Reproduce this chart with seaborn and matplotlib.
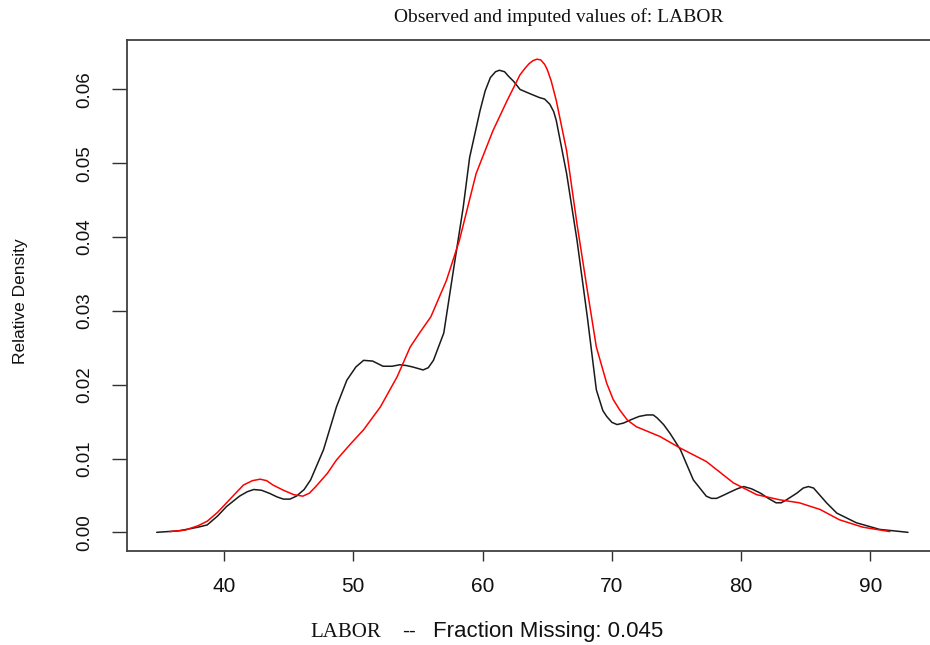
import matplotlib
matplotlib.use("Agg")
import matplotlib.pyplot as plt
import seaborn as sns
from matplotlib.ticker import FixedLocator, StrMethodFormatter

# ---- data ----
obs_x = [34.8, 36.5, 38.0, 38.7, 39.5, 40.2, 41.2, 41.8, 42.3, 42.9, 43.5, 44.1,
         44.6, 45.1, 45.6, 46.2, 46.7, 47.7, 48.7, 49.5, 50.2, 50.8, 51.5, 52.3,
         53.0, 53.6, 54.1, 54.6, 55.0, 55.4, 55.8, 56.2, 57.0, 57.7, 58.5, 59.0,
         59.8, 60.2, 60.6, 61.0, 61.3, 61.7, 62.0, 62.4, 62.9, 63.7, 64.4, 64.8,
         65.2, 65.5, 65.7, 66.5, 67.3, 68.1, 68.8, 69.3, 69.6, 70.0, 70.4, 70.9,
         71.4, 72.1, 72.7, 73.2, 73.5, 74.0, 74.5, 75.3, 76.3, 77.3, 77.7, 78.1,
         78.6, 79.2, 79.7, 80.2, 80.8, 81.5, 82.1, 82.7, 83.1, 83.5, 84.3, 84.8,
         85.2, 85.6, 86.0, 86.6, 87.4, 88.9, 90.7, 92.9]
obs_density = [0.0, 0.0002, 0.0007, 0.0010, 0.0022, 0.0035, 0.0049, 0.0055,
               0.0058, 0.0057, 0.0053, 0.0048, 0.0045, 0.0045, 0.0049, 0.0058,
               0.0071, 0.0112, 0.0170, 0.0206, 0.0224, 0.0233, 0.0232, 0.0225,
               0.0225, 0.0227, 0.0226, 0.0224, 0.0222, 0.0220, 0.0223, 0.0233,
               0.0270, 0.0350, 0.0440, 0.0508, 0.0571, 0.0598, 0.0616, 0.0624,
               0.0626, 0.0624, 0.0618, 0.0611, 0.0600, 0.0594, 0.0589, 0.0587,
               0.0580, 0.0570, 0.0558, 0.0486, 0.0396, 0.0292, 0.0193, 0.0165,
               0.0157, 0.0149, 0.0146, 0.0148, 0.0152, 0.0157, 0.0159, 0.0159,
               0.0155, 0.0146, 0.0134, 0.0112, 0.0071, 0.0049, 0.0046, 0.0046,
               0.0050, 0.0055, 0.0059, 0.0062, 0.0059, 0.0053, 0.0046, 0.0040,
               0.0040, 0.0044, 0.0053, 0.0060, 0.0062, 0.0060, 0.0052, 0.0040,
               0.0026, 0.0013, 0.0004, 0.0]

imp_x = [35.8, 37.0, 38.0, 38.7, 39.5, 40.2, 41.5, 42.2, 42.8, 43.3, 43.8, 44.6,
         45.4, 46.1, 46.6, 47.1, 48.0, 48.7, 49.8, 50.8, 52.1, 53.4, 54.4, 55.2,
         56.0, 57.2, 58.2, 59.5, 60.8, 61.9, 62.9, 63.3, 63.6, 63.9, 64.2, 64.5,
         64.8, 65.0, 65.3, 65.7, 66.5, 67.3, 68.1, 68.8, 69.6, 70.1, 70.6, 71.2,
         71.9, 73.7, 75.3, 77.3, 79.4, 81.2, 83.0, 84.5, 86.1, 87.6, 89.4, 91.5]
imp_density = [0.0001, 0.0003, 0.0009, 0.0015, 0.0027, 0.0040, 0.0064, 0.0070,
               0.0072, 0.0070, 0.0064, 0.0057, 0.0051, 0.0049, 0.0053, 0.0062,
               0.0080, 0.0098, 0.0120, 0.0139, 0.0170, 0.0211, 0.0251, 0.0272,
               0.0292, 0.0341, 0.0395, 0.0486, 0.0544, 0.0585, 0.0620, 0.0629,
               0.0635, 0.0639, 0.0641, 0.0640, 0.0634, 0.0627, 0.0612, 0.0585,
               0.0517, 0.0418, 0.0328, 0.0251, 0.0202, 0.0180, 0.0166, 0.0152,
               0.0143, 0.0130, 0.0114, 0.0096, 0.0067, 0.0051, 0.0044, 0.0040,
               0.0031, 0.0017, 0.0007, 0.0001]

x_ticks = [40, 50, 60, 70, 80, 90]
y_ticks = [0.00, 0.01, 0.02, 0.03, 0.04, 0.05, 0.06]

title_text = "Observed and imputed values of: LABOR"
var_name = "LABOR"
xlabel_rest = "Fraction Missing: 0.045"
ylabel_text = "Relative Density"

# ---- figure ----
sns.set_style("white")
plt.rcParams['font.family'] = ['Liberation Sans', 'DejaVu Sans']

W, H = 930, 645
fig = plt.figure(figsize=(W / 100, H / 100), dpi=100)
ax = fig.add_axes([127 / W, 1 - 551 / H, (939 - 127) / W, (551 - 40) / H])

sns.lineplot(x=obs_x, y=obs_density, ax=ax, color="#1a1a1a", lw=1.1,
             sort=False, estimator=None)
sns.lineplot(x=imp_x, y=imp_density, ax=ax, color="#ff0000", lw=1.1,
             sort=False, estimator=None)

ax.set_xlim(32.5, 95.3)
ax.set_ylim(-0.00253, 0.06670)
ax.xaxis.set_major_locator(FixedLocator(x_ticks))
ax.yaxis.set_major_locator(FixedLocator(y_ticks))
ax.yaxis.set_major_formatter(StrMethodFormatter("{x:.2f}"))

for s in ax.spines.values():
    s.set_color("#404040")
    s.set_linewidth(1.3)
    s.set_visible(True)

ax.tick_params(axis='x', direction='out', length=7.5, width=1.0, color="#303030",
               pad=11, labelsize=15, labelcolor="#111111", bottom=True)
ax.tick_params(axis='y', direction='out', length=11, width=1.0, color="#303030",
               pad=13.5, labelsize=13.5, labelcolor="#111111", left=True,
               labelrotation=90)
for lab in ax.get_yticklabels():
    lab.set_va('center')
    lab.set_ha('right')

ax.set_xlabel("")
ax.set_ylabel("")

# title (serif)
fig.text(559 / W, 1 - 17 / H, title_text, ha='center', va='center',
         family=['Liberation Serif', 'DejaVu Serif'], fontsize=14, color="#111111")

# x label: serif variable name + sans rest
fig.text(310 / W, 1 - 637 / H, var_name, ha='left', va='baseline',
         family=['Liberation Serif', 'DejaVu Serif'], fontsize=15, color="#111111")
fig.text(402 / W, 1 - 637 / H, "--", ha='left', va='baseline',
         fontsize=15, color="#111111")
fig.text(433 / W, 1 - 637 / H, xlabel_rest, ha='left', va='baseline',
         fontsize=16, color="#111111")

# y label
fig.text(21 / W, 1 - 301 / H, ylabel_text, ha='center', va='center', rotation=90,
         fontsize=12.5, color="#111111")

fig.savefig("out.png", dpi=100, facecolor="white")
